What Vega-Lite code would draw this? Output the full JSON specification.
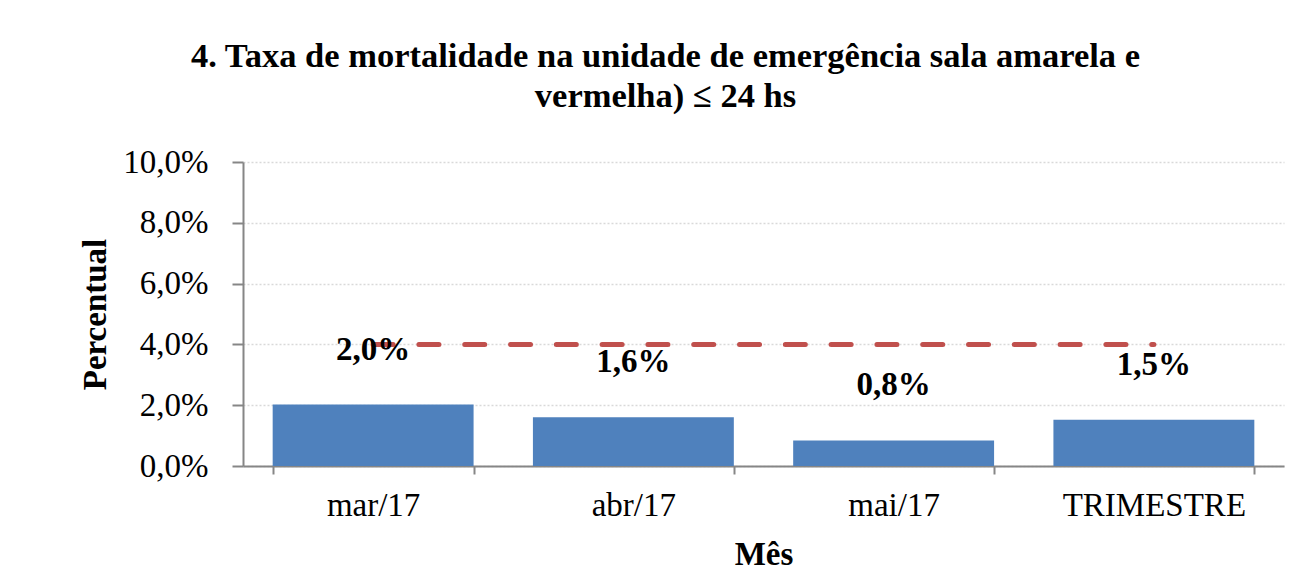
{
  "$schema": "https://vega.github.io/schema/vega-lite/v6.json",
  "width": 1041,
  "height": 304,
  "autosize": {"type": "none"},
  "padding": {"left": 243, "top": 162, "right": 25, "bottom": 111},
  "background": "white",
  "config": {"view": {"stroke": null}},
  "title": {
    "text": ["4. Taxa de mortalidade  na unidade  de emergência sala amarela e", "vermelha) ≤ 24 hs"],
    "font": "Liberation Serif",
    "fontSize": 34.5,
    "fontWeight": "bold",
    "color": "black",
    "anchor": "middle",
    "frame": "group",
    "dx": -98,
    "offset": 32,
    "lineHeight": 40
  },
  "data": {
    "values": [
      {"mes": "mar/17", "taxa": 0.0202, "meta": 0.04, "rotulo": "2,0%"},
      {"mes": "abr/17", "taxa": 0.016, "meta": 0.04, "rotulo": "1,6%"},
      {"mes": "mai/17", "taxa": 0.0084, "meta": 0.04, "rotulo": "0,8%"},
      {"mes": "TRIMESTRE", "taxa": 0.0152, "meta": 0.04, "rotulo": "1,5%"}
    ]
  },
  "encoding": {
    "x": {
      "field": "mes",
      "type": "nominal",
      "sort": null,
      "scale": {"paddingInner": 0.228, "paddingOuter": 0.114},
      "axis": {
        "title": "Mês",
        "titleFont": "Liberation Serif",
        "titleFontSize": 33,
        "titleFontWeight": "bold",
        "titleColor": "black",
        "titlePadding": 16,
        "labelFont": "Liberation Serif",
        "labelFontSize": 33,
        "labelColor": "black",
        "labelAngle": 0,
        "labelPadding": 15,
        "labelLimit": 0,
        "tickBand": "extent",
        "tickSize": 8,
        "tickWidth": 2,
        "tickColor": "#868686",
        "domainColor": "#868686",
        "domainWidth": 2,
        "grid": false
      }
    }
  },
  "layer": [
    {
      "mark": {"type": "bar", "color": "#4F81BD"},
      "encoding": {
        "y": {
          "field": "taxa",
          "type": "quantitative",
          "scale": {"domain": [0, 0.1]},
          "axis": {
            "title": "Percentual",
            "titleFont": "Liberation Serif",
            "titleFontSize": 33,
            "titleFontWeight": "bold",
            "titleColor": "black",
            "titlePadding": 10,
            "values": [0, 0.02, 0.04, 0.06, 0.08, 0.1],
            "labelExpr": "replace(format(datum.value, '.1%'), '.', ',')",
            "labelFont": "Liberation Serif",
            "labelFontSize": 33,
            "labelColor": "black",
            "labelPadding": 24,
            "tickSize": 11,
            "tickWidth": 2,
            "tickColor": "#868686",
            "domainColor": "#868686",
            "domainWidth": 2,
            "grid": true,
            "gridColor": "#D9D9D9",
            "gridDash": [2, 2],
            "gridWidth": 1.5
          }
        }
      }
    },
    {
      "mark": {"type": "line", "color": "#C0504D", "strokeWidth": 5, "strokeDash": [20, 25.8], "strokeCap": "round"},
      "encoding": {
        "y": {"field": "meta", "type": "quantitative"}
      }
    },
    {
      "mark": {"type": "text", "font": "Liberation Serif", "fontSize": 33, "fontWeight": "bold", "color": "black", "baseline": "middle", "dy": -55},
      "encoding": {
        "y": {"field": "taxa", "type": "quantitative"},
        "text": {"field": "rotulo"}
      }
    }
  ]
}
